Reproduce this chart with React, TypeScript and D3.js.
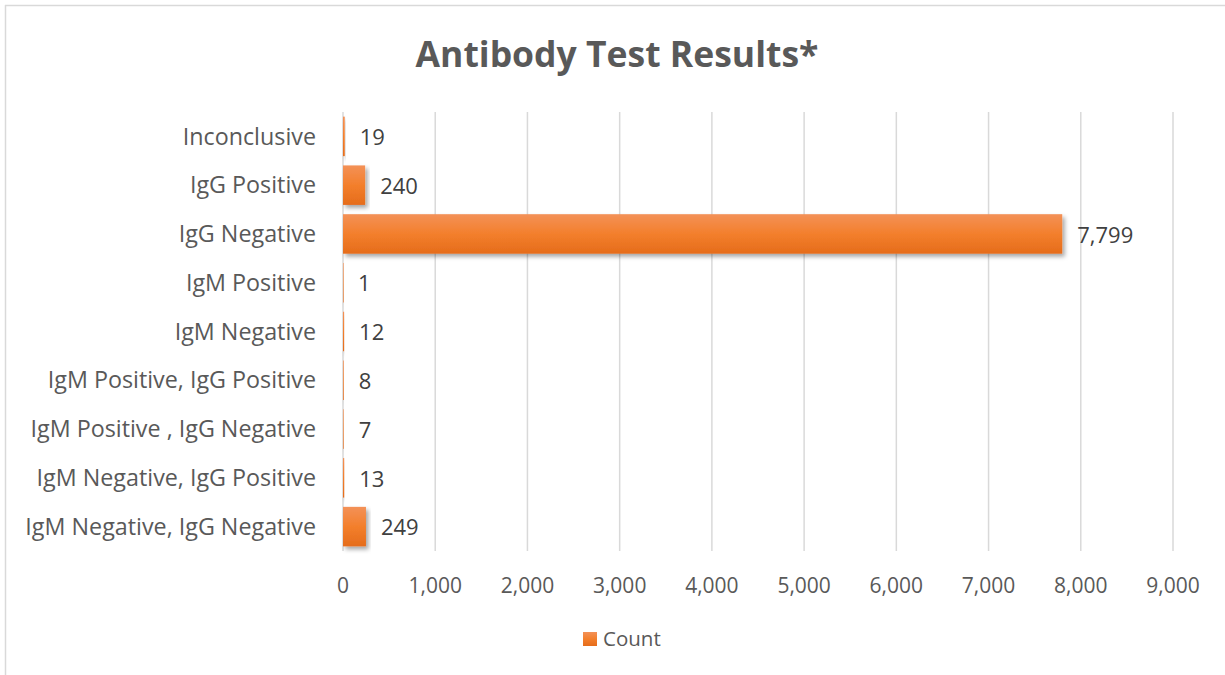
import React from "react";
import * as d3 from "d3";

const categories = [
  "Inconclusive",
  "IgG Positive",
  "IgG Negative",
  "IgM Positive",
  "IgM Negative",
  "IgM Positive, IgG Positive",
  "IgM Positive , IgG Negative",
  "IgM Negative, IgG Positive",
  "IgM Negative, IgG Negative",
];
const counts = [19, 240, 7799, 1, 12, 8, 7, 13, 249];
const xTicks = [0, 1000, 2000, 3000, 4000, 5000, 6000, 7000, 8000, 9000];
const seriesName = "Count";

const W = 1225;
const H = 675;
const margin = { top: 112, left: 343, right: 52, bottom: 124 };
const font = "'Open Sans', 'Noto Sans', sans-serif";
const textColor = "#595959";

const App: React.FC = () => {
  const x = d3
    .scaleLinear()
    .domain([0, 9000])
    .range([margin.left, W - margin.right]);
  const y = d3
    .scaleBand<string>()
    .domain(categories)
    .range([margin.top, H - margin.bottom])
    .paddingInner(0.19)
    .paddingOuter(0.095);
  const fmt = d3.format(",");
  const plotTop = margin.top;
  const plotBottom = H - margin.bottom;

  return (
    <svg
      width={W}
      height={H}
      style={{ position: "absolute", left: 0, top: 0, background: "#fff" }}
      fontFamily={font}
    >
      <defs>
        <linearGradient id="barGrad" x1="0" y1="0" x2="0" y2="1">
          <stop offset="0%" stopColor="#F39157" />
          <stop offset="50%" stopColor="#F37F2C" />
          <stop offset="100%" stopColor="#E56C1B" />
        </linearGradient>
        <filter id="shadow" x="-10%" y="-30%" width="130%" height="180%">
          <feDropShadow dx="2.5" dy="3" stdDeviation="2" floodColor="#000" floodOpacity="0.35" />
        </filter>
      </defs>

      {/* chart border */}
      <line x1={5} x2={W} y1={5.5} y2={5.5} stroke="#d9d9d9" strokeWidth={1.5} />
      <line x1={5.5} x2={5.5} y1={5} y2={H} stroke="#d9d9d9" strokeWidth={1.5} />

      <text
        x={617}
        y={67}
        textAnchor="middle"
        fontSize={35.5}
        fontWeight="bold"
        fill={textColor}
      >
        Antibody Test Results*
      </text>

      {/* gridlines */}
      {xTicks.map((t) => (
        <line
          key={t}
          x1={x(t)}
          x2={x(t)}
          y1={plotTop}
          y2={plotBottom}
          stroke="#d9d9d9"
          strokeWidth={1.5}
        />
      ))}

      {/* bars */}
      {categories.map((c, i) => (
        <rect
          key={c}
          x={x(0)}
          y={y(c)!}
          width={Math.max(x(counts[i]) - x(0), 0.6)}
          height={y.bandwidth()}
          fill="url(#barGrad)"
          filter="url(#shadow)"
        />
      ))}

      {/* category labels */}
      {categories.map((c) => (
        <text
          key={c}
          x={316}
          y={y(c)! + y.bandwidth() / 2}
          dy="0.35em"
          textAnchor="end"
          fontSize={23.3}
          fill={textColor}
        >
          {c}
        </text>
      ))}

      {/* value labels */}
      {categories.map((c, i) => (
        <text
          key={c}
          x={x(counts[i]) + 15}
          y={y(c)! + y.bandwidth() / 2 + 1}
          dy="0.35em"
          fontSize={22}
          fill="#404040"
        >
          {fmt(counts[i])}
        </text>
      ))}

      {/* x tick labels */}
      {xTicks.map((t) => (
        <text
          key={t}
          x={x(t)}
          y={586}
          dy="0.35em"
          textAnchor="middle"
          fontSize={21}
          fill={textColor}
        >
          {fmt(t)}
        </text>
      ))}

      {/* legend */}
      <rect x={583} y={632} width={14} height={14} fill="url(#barGrad)" />
      <text x={603} y={639} dy="0.35em" fontSize={20.5} fill={textColor}>
        {seriesName}
      </text>
    </svg>
  );
};

export default App;
